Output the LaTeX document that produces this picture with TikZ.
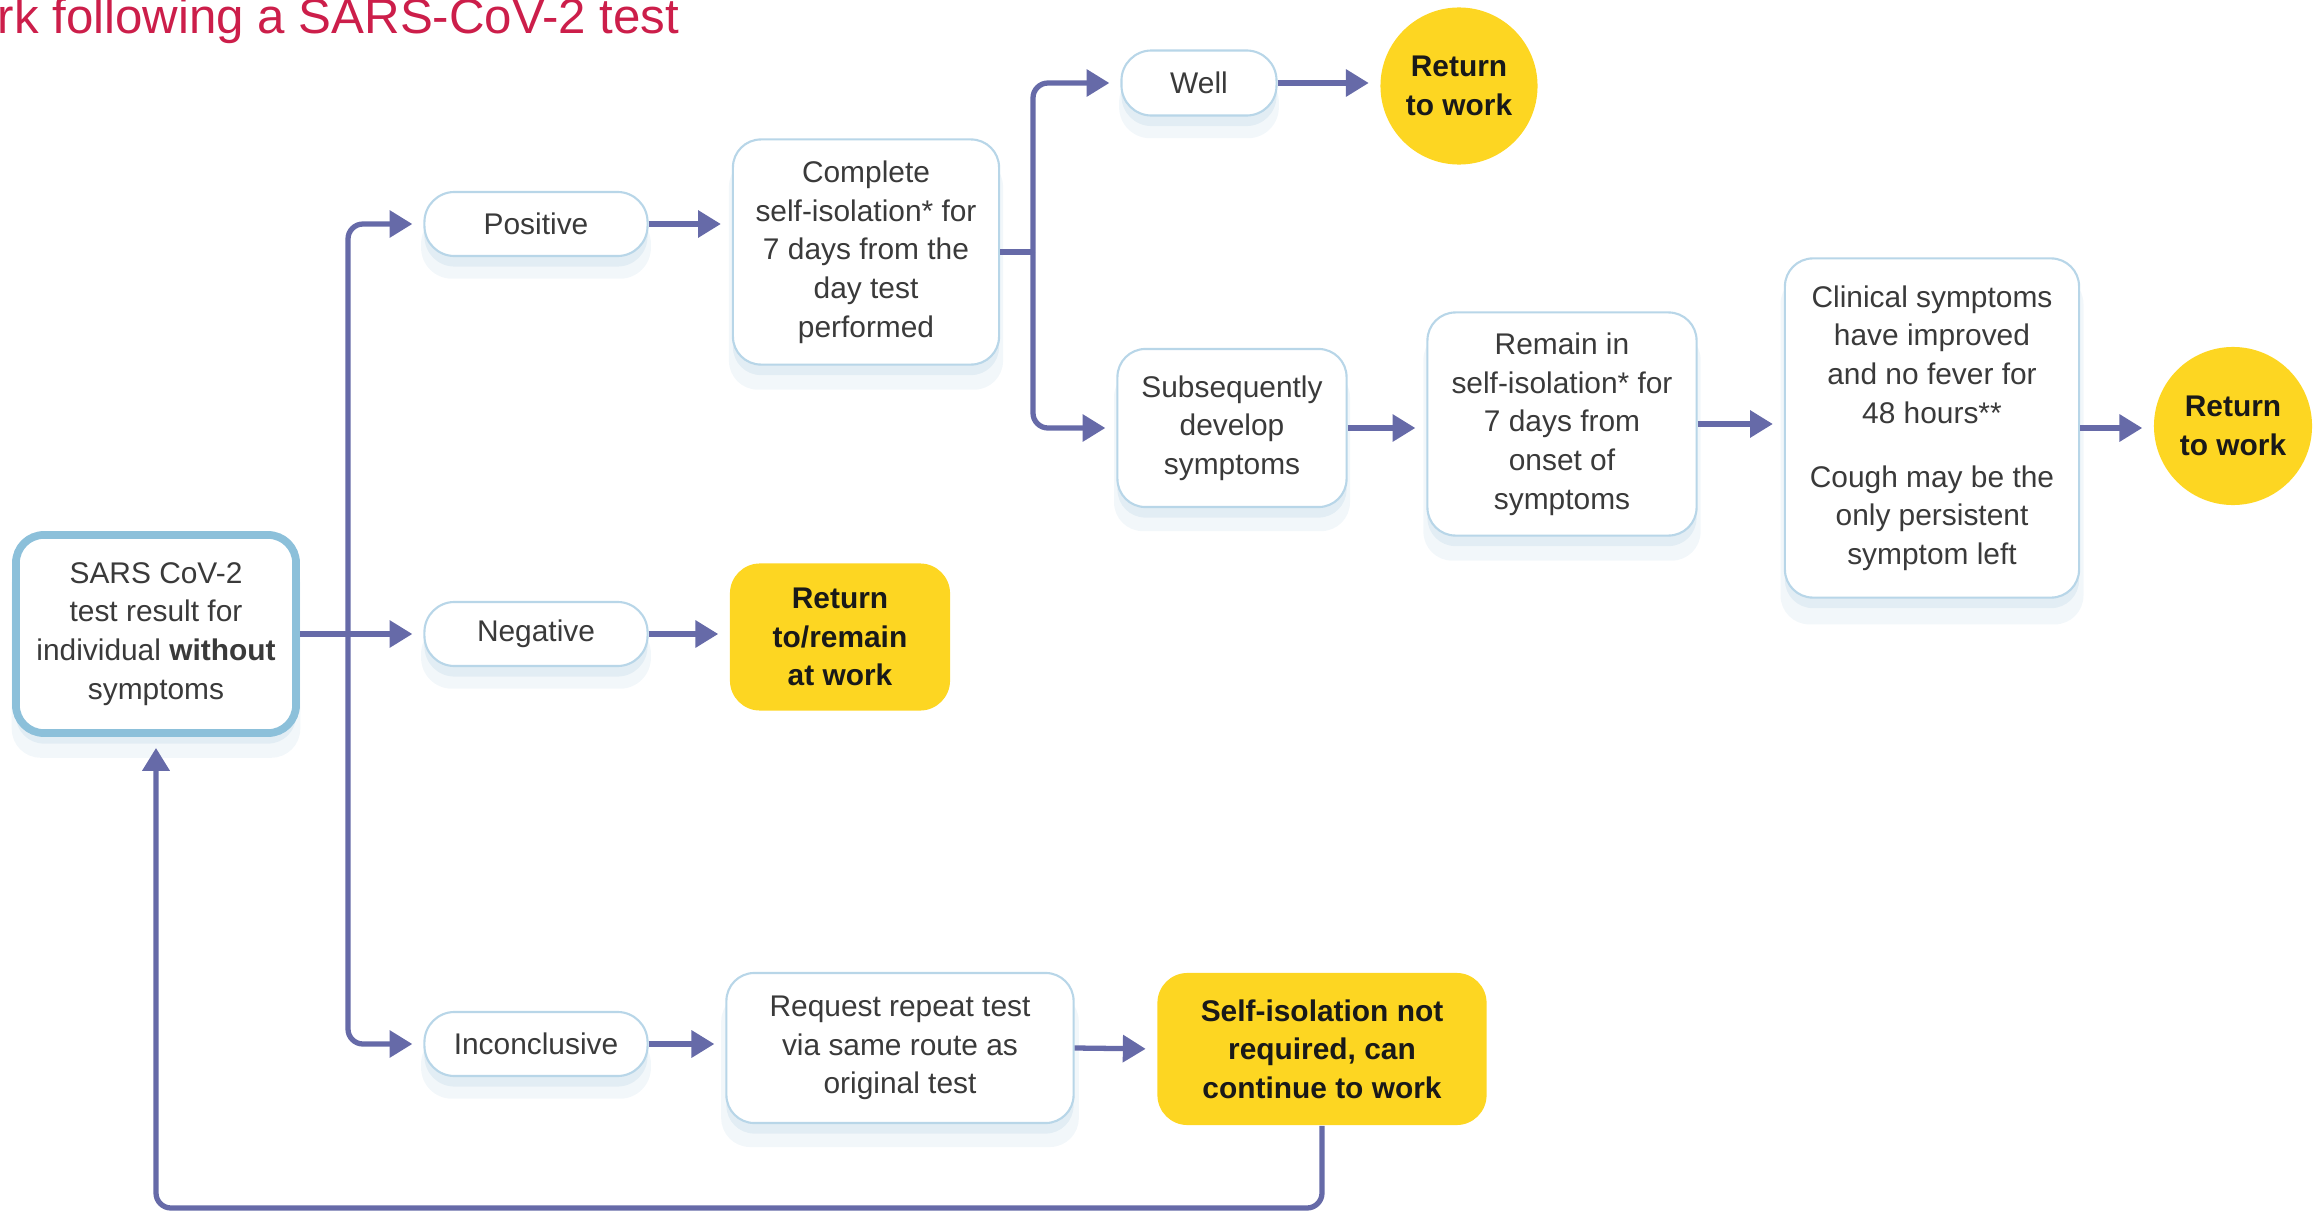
\documentclass[tikz,border=0pt]{standalone}
\usepackage{fontspec}
\setmainfont{Liberation Sans}
\usetikzlibrary{arrows.meta, shadows}
\definecolor{flowblue}{RGB}{102,106,168}
\definecolor{edgeblue}{RGB}{184,214,232}
\definecolor{glowblue}{RGB}{150,190,215}
\definecolor{startblue}{RGB}{140,192,218}
\definecolor{goldfill}{RGB}{253,214,34}
\definecolor{titlered}{RGB}{204,30,74}
\definecolor{txtgrey}{RGB}{58,58,58}
\tikzset{every node/.style={font=\fontsize{8.5}{11}\selectfont}}

\begin{document}
\begin{tikzpicture}[x=0.01cm,y=-0.01cm,>={Triangle[length=6.5pt,width=7.5pt]},
  flow/.style={->,draw=flowblue,line width=1.5pt,rounded corners=0.15cm,shorten >=0.11cm},
  link/.style={draw=flowblue,line width=1.5pt},
  soft/.style={general shadow={fill=glowblue,opacity=0.18,shadow yshift=-3pt},
    general shadow={fill=glowblue,opacity=0.12,shadow yshift=-6pt,shadow scale=1.03}},
  pill/.style={draw=edgeblue,fill=white,line width=0.6pt,rounded corners=0.3cm,text=txtgrey,soft,
    minimum height=0.64cm,minimum width=2.23cm,align=center,inner sep=0pt},
  box/.style={draw=edgeblue,fill=white,line width=0.6pt,rounded corners=0.28cm,text=txtgrey,soft,
    align=center,inner sep=0pt},
  goal/.style={fill=goldfill,rounded corners=0.3cm,text=black!90,align=center,inner sep=0pt,
    font=\fontsize{8.5}{11}\selectfont\bfseries},
  done/.style={circle,fill=goldfill,minimum size=1.57cm,text=black!90,align=center,inner sep=0pt,
    font=\fontsize{8.5}{11}\selectfont\bfseries}]
  \useasboundingbox (0,0) rectangle (2323,1212);

  % title, cut at the left edge
  \node[anchor=base east,inner sep=0pt,text=titlered,font=\fontsize{14}{16}\selectfont] (title) at (680,33) {rk following a SARS-CoV-2 test};

  % test result and its three outcomes
  \node[box,draw=startblue,line width=2.2pt,minimum width=2.8cm,minimum height=1.98cm] (start) at (156,634)
    {SARS CoV-2\\test result for\\individual \textbf{without}\\symptoms};
  \node[pill] (pos) at (536,224) {Positive};
  \node[pill] (neg) at (536,634) {Negative};
  \node[pill] (inconc) at (536,1044) {Inconclusive};

  \node[box,minimum width=2.66cm,minimum height=2.25cm] (complete) at (866,252)
    {Complete\\self-isolation* for\\7 days from the\\day test\\performed};
  \node[goal,minimum width=2.2cm,minimum height=1.47cm] (stay) at (840,637) {Return\\to/remain\\at work};
  \node[box,minimum width=3.47cm,minimum height=1.5cm] (request) at (900,1048)
    {Request repeat test\\via same route as\\original test};
  \node[goal,minimum width=3.29cm,minimum height=1.52cm] (noiso) at (1322,1049)
    {Self-isolation not\\required, can\\continue to work};

  % after a positive result
  \node[pill,minimum width=1.55cm,minimum height=0.65cm] (well) at (1199,83) {Well};
  \node[done] (work1) at (1459,86) {Return\\to work};
  \node[box,minimum width=2.29cm,minimum height=1.58cm] (subseq) at (1232,428)
    {Subsequently\\develop\\symptoms};
  \node[box,minimum width=2.69cm,minimum height=2.23cm] (remain) at (1562,424)
    {Remain in\\self-isolation* for\\7 days from\\onset of\\symptoms};
  \node[box,minimum width=2.94cm,minimum height=3.39cm] (clinical) at (1932,428)
    {Clinical symptoms\\have improved\\and no fever for\\48 hours**\\[1.6ex]Cough may be the\\only persistent\\symptom left};
  \node[done,minimum size=1.58cm] (work2) at (2233,426) {Return\\to work};

  \coordinate (split1) at (348,634);
  \coordinate (split2) at (1033,252);
  \coordinate (base) at (0,1208);

  \draw[flow] (start.east) -- (neg.west);
  \draw[flow] (split1) |- (pos.west);
  \draw[flow] (split1) |- (inconc.west);
  \draw[flow] (pos.east) -- (pos.east -| complete.west);
  \draw[flow] (neg.east) -- (neg.east -| stay.west);
  \draw[flow] (inconc.east) -- (inconc.east -| request.west);
  \draw[flow] (request.east) -- (noiso.west);
  \draw[link] (complete.east |- split2) -- (split2);
  \draw[flow] (split2) |- (well.west);
  \draw[flow] (split2) |- (subseq.west);
  \draw[flow] (well.east) -- (well.east -| work1.west);
  \draw[flow] (subseq.east) -- (subseq.east -| remain.west);
  \draw[flow] (remain.east) -- (remain.east -| clinical.west);
  \draw[flow] (clinical.east) -- (clinical.east -| work2.west);
  \draw[flow] (noiso.south) -- (noiso.south |- base) -| (start.south);
\end{tikzpicture}
\end{document}
